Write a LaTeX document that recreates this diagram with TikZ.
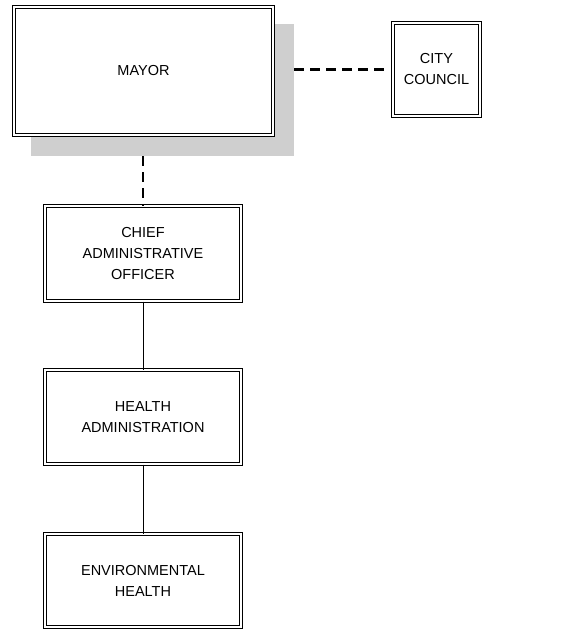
\documentclass[tikz,border=0pt]{standalone}
\usepackage{fontspec}
\setmainfont{Liberation Sans}
\begin{document}
\begin{tikzpicture}[x=1pt,y=-1pt,
  orgbox/.style={rectangle, draw=black, line width=1pt, double=white, double distance=1.8pt,
    fill=white, align=center, inner sep=0pt, font=\fontsize{14.5}{21}\selectfont},
  shadowbox/.style={rectangle, fill=black!19, draw=none, inner sep=0pt},
  dashconn/.style={line width=2.2pt, dash pattern=on 10pt off 6pt},
  solidconn/.style={line width=1pt}]
\useasboundingbox (0,0) rectangle (579,630);
\node[shadowbox, minimum width=263pt, minimum height=132pt] (shadow) at (162.5,90) {};
\node[orgbox, minimum width=259pt, minimum height=128pt] (mayor) at (143.5,71) {MAYOR};
\node[orgbox, minimum width=87pt, minimum height=93pt] (council) at (436.5,69.5) {CITY\\COUNCIL};
\node[orgbox, minimum width=196pt, minimum height=95pt] (cao) at (143,253.5) {CHIEF\\ADMINISTRATIVE\\OFFICER};
\node[orgbox, minimum width=196pt, minimum height=94pt] (health) at (143,417) {HEALTH\\ADMINISTRATION};
\node[orgbox, minimum width=196pt, minimum height=93pt] (env) at (143,580.5) {ENVIRONMENTAL\\HEALTH};
\draw[dashconn] (shadow.east |- council.west) -- ([xshift=-3pt]council.west);
\draw[dashconn] (shadow.south -| cao.north) -- (cao.north);
\draw[solidconn] (cao.south) -- (health.north);
\draw[solidconn] (health.south) -- (env.north);
\end{tikzpicture}
\end{document}
